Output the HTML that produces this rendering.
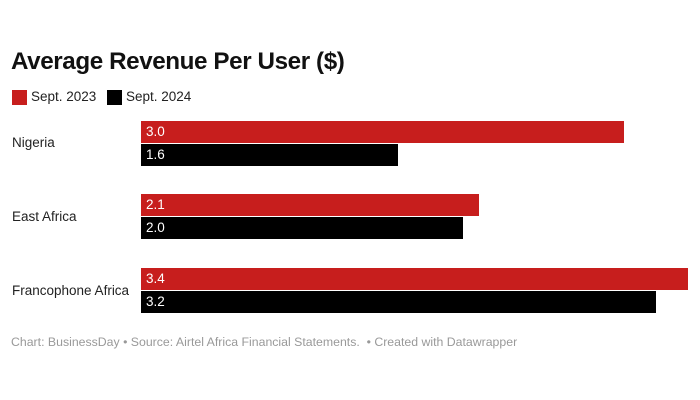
<!DOCTYPE html>
<html><head><style>
body{margin:0;width:700px;height:400px;background:#fff;font-family:"Liberation Sans",sans-serif;position:relative;overflow:hidden}
div{position:absolute}
.t{left:11px;top:48px;font-size:24.2px;font-weight:bold;color:#111;letter-spacing:-0.4px}
.sq{width:15px;height:15px;top:90px}
.lg{top:89px;font-size:13.5px;color:#222}
.lab{left:12px;font-size:13.5px;color:#222}
.bar{left:141px;height:22px;color:#fff;font-size:13.5px;line-height:22px;padding-left:5px;box-sizing:border-box}
.r{background:#c71e1d}.k{background:#000}
.f{left:11px;top:335px;font-size:12.3px;color:#999}
</style></head><body>
<div class="t">Average Revenue Per User ($)</div>
<div class="sq r" style="left:12px"></div><div class="lg" style="left:31px">Sept. 2023</div>
<div class="sq k" style="left:107px"></div><div class="lg" style="left:126px">Sept. 2024</div>
<div class="lab" style="top:135px">Nigeria</div>
<div class="bar r" style="top:121px;width:483px">3.0</div>
<div class="bar k" style="top:144px;width:257px">1.6</div>
<div class="lab" style="top:209px">East Africa</div>
<div class="bar r" style="top:194px;width:338px">2.1</div>
<div class="bar k" style="top:217px;width:322px">2.0</div>
<div class="lab" style="top:283px">Francophone Africa</div>
<div class="bar r" style="top:268px;width:547px">3.4</div>
<div class="bar k" style="top:291px;width:515px">3.2</div>
<div class="f">Chart: BusinessDay • Source: Airtel Africa Financial Statements. &nbsp;• Created with Datawrapper</div>
</body></html>
